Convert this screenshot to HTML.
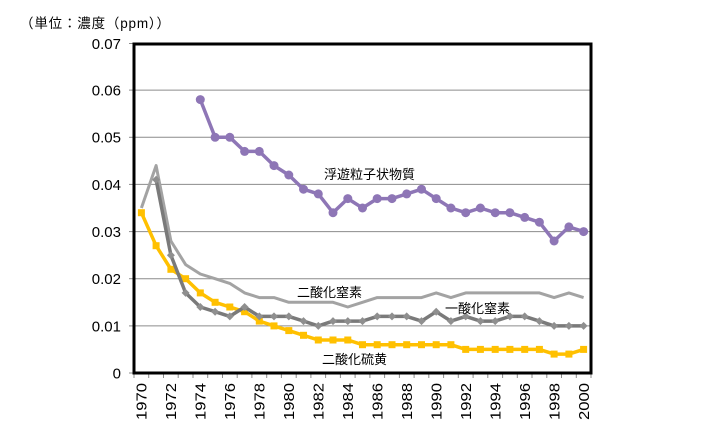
<!DOCTYPE html>
<html><head><meta charset="utf-8"><style>
html,body{margin:0;padding:0;background:#fff;}
svg{display:block;}
text{font-family:"Liberation Sans","Noto Sans CJK JP",sans-serif;}
</style></head><body>
<svg width="709" height="428" viewBox="0 0 709 428" xmlns="http://www.w3.org/2000/svg">
<rect width="709" height="428" fill="#fff"/>
<text x="20" y="28" font-size="13.5" fill="#000" textLength="150" lengthAdjust="spacing">（単位：濃度（ppm））</text>
<!-- gridlines -->
<g stroke="#8c8c8c" stroke-width="1">
<line x1="134" y1="90.1" x2="591" y2="90.1"/>
<line x1="134" y1="137.3" x2="591" y2="137.3"/>
<line x1="134" y1="184.4" x2="591" y2="184.4"/>
<line x1="134" y1="231.6" x2="591" y2="231.6"/>
<line x1="134" y1="278.7" x2="591" y2="278.7"/>
<line x1="134" y1="325.9" x2="591" y2="325.9"/>
</g>
<!-- y ticks -->
<g stroke="#8c8c8c" stroke-width="1">
<line x1="129" y1="43.5" x2="134" y2="43.5"/>
<line x1="129" y1="90.1" x2="134" y2="90.1"/>
<line x1="129" y1="137.3" x2="134" y2="137.3"/>
<line x1="129" y1="184.4" x2="134" y2="184.4"/>
<line x1="129" y1="231.6" x2="134" y2="231.6"/>
<line x1="129" y1="278.7" x2="134" y2="278.7"/>
<line x1="129" y1="325.9" x2="134" y2="325.9"/>
<line x1="129" y1="373" x2="134" y2="373"/>
</g>
<g font-size="15" fill="#000" text-anchor="end">
<text x="121" y="49">0.07</text>
<text x="121" y="95.5">0.06</text>
<text x="121" y="142.7">0.05</text>
<text x="121" y="189.8">0.04</text>
<text x="121" y="237">0.03</text>
<text x="121" y="284.1">0.02</text>
<text x="121" y="331.3">0.01</text>
<text x="121" y="378.4">0</text>
</g>
<!-- x ticks -->
<g stroke="#8c8c8c" stroke-width="1">
<line x1="134" y1="373" x2="134" y2="378"/><line x1="148.7" y1="373" x2="148.7" y2="378"/><line x1="163.5" y1="373" x2="163.5" y2="378"/><line x1="178.2" y1="373" x2="178.2" y2="378"/><line x1="193" y1="373" x2="193" y2="378"/><line x1="207.7" y1="373" x2="207.7" y2="378"/><line x1="222.5" y1="373" x2="222.5" y2="378"/><line x1="237.2" y1="373" x2="237.2" y2="378"/><line x1="251.9" y1="373" x2="251.9" y2="378"/><line x1="266.7" y1="373" x2="266.7" y2="378"/><line x1="281.4" y1="373" x2="281.4" y2="378"/><line x1="296.2" y1="373" x2="296.2" y2="378"/><line x1="310.9" y1="373" x2="310.9" y2="378"/><line x1="325.6" y1="373" x2="325.6" y2="378"/><line x1="340.4" y1="373" x2="340.4" y2="378"/><line x1="355.1" y1="373" x2="355.1" y2="378"/><line x1="369.9" y1="373" x2="369.9" y2="378"/><line x1="384.6" y1="373" x2="384.6" y2="378"/><line x1="399.4" y1="373" x2="399.4" y2="378"/><line x1="414.1" y1="373" x2="414.1" y2="378"/><line x1="428.8" y1="373" x2="428.8" y2="378"/><line x1="443.6" y1="373" x2="443.6" y2="378"/><line x1="458.3" y1="373" x2="458.3" y2="378"/><line x1="473.1" y1="373" x2="473.1" y2="378"/><line x1="487.8" y1="373" x2="487.8" y2="378"/><line x1="502.6" y1="373" x2="502.6" y2="378"/><line x1="517.3" y1="373" x2="517.3" y2="378"/><line x1="532" y1="373" x2="532" y2="378"/><line x1="546.8" y1="373" x2="546.8" y2="378"/><line x1="561.5" y1="373" x2="561.5" y2="378"/><line x1="576.3" y1="373" x2="576.3" y2="378"/><line x1="591" y1="373" x2="591" y2="378"/>
</g>
<g font-size="15" fill="#000" text-anchor="end">
<text transform="translate(146.6,383) rotate(-90)" textLength="37" lengthAdjust="spacingAndGlyphs">1970</text>
<text transform="translate(176.1,383) rotate(-90)" textLength="37" lengthAdjust="spacingAndGlyphs">1972</text>
<text transform="translate(205.5,383) rotate(-90)" textLength="37" lengthAdjust="spacingAndGlyphs">1974</text>
<text transform="translate(235,383) rotate(-90)" textLength="37" lengthAdjust="spacingAndGlyphs">1976</text>
<text transform="translate(264.5,383) rotate(-90)" textLength="37" lengthAdjust="spacingAndGlyphs">1978</text>
<text transform="translate(294,383) rotate(-90)" textLength="37" lengthAdjust="spacingAndGlyphs">1980</text>
<text transform="translate(323.5,383) rotate(-90)" textLength="37" lengthAdjust="spacingAndGlyphs">1982</text>
<text transform="translate(353,383) rotate(-90)" textLength="37" lengthAdjust="spacingAndGlyphs">1984</text>
<text transform="translate(382.4,383) rotate(-90)" textLength="37" lengthAdjust="spacingAndGlyphs">1986</text>
<text transform="translate(411.9,383) rotate(-90)" textLength="37" lengthAdjust="spacingAndGlyphs">1988</text>
<text transform="translate(441.4,383) rotate(-90)" textLength="37" lengthAdjust="spacingAndGlyphs">1990</text>
<text transform="translate(470.9,383) rotate(-90)" textLength="37" lengthAdjust="spacingAndGlyphs">1992</text>
<text transform="translate(500.4,383) rotate(-90)" textLength="37" lengthAdjust="spacingAndGlyphs">1994</text>
<text transform="translate(529.9,383) rotate(-90)" textLength="37" lengthAdjust="spacingAndGlyphs">1996</text>
<text transform="translate(559.3,383) rotate(-90)" textLength="37" lengthAdjust="spacingAndGlyphs">1998</text>
<text transform="translate(588.8,383) rotate(-90)" textLength="37" lengthAdjust="spacingAndGlyphs">2000</text>
</g>
<!-- NO2 light gray -->
<polyline fill="none" stroke="#a3a3a3" stroke-width="3" stroke-linejoin="round" points="141.4,208 156.1,165.6 170.9,241 185.6,264.6 200.3,274 215.1,278.7 229.8,283.4 244.6,292.9 259.3,297.6 274,297.6 288.8,302.3 303.5,302.3 318.3,302.3 333,302.3 347.8,307 362.5,302.3 377.2,297.6 392,297.6 406.7,297.6 421.5,297.6 436.2,292.9 450.9,297.6 465.7,292.9 480.4,292.9 495.2,292.9 509.9,292.9 524.7,292.9 539.4,292.9 554.1,297.6 568.9,292.9 583.6,297.6"/>
<!-- SO2 yellow -->
<polyline fill="none" stroke="#ffc000" stroke-width="3.5" stroke-linejoin="round" points="141.4,212.7 156.1,245.7 170.9,269.3 185.6,278.7 200.3,292.9 215.1,302.3 229.8,307 244.6,311.7 259.3,321.1 274,325.9 288.8,330.6 303.5,335.3 318.3,340 333,340 347.8,340 362.5,344.7 377.2,344.7 392,344.7 406.7,344.7 421.5,344.7 436.2,344.7 450.9,344.7 465.7,349.4 480.4,349.4 495.2,349.4 509.9,349.4 524.7,349.4 539.4,349.4 554.1,354.1 568.9,354.1 583.6,349.4"/>
<g fill="#ffc000">
<rect x="137.9" y="209.2" width="7" height="7"/><rect x="152.6" y="242.2" width="7" height="7"/><rect x="167.4" y="265.8" width="7" height="7"/><rect x="182.1" y="275.2" width="7" height="7"/><rect x="196.8" y="289.4" width="7" height="7"/><rect x="211.6" y="298.8" width="7" height="7"/><rect x="226.3" y="303.5" width="7" height="7"/><rect x="241.1" y="308.2" width="7" height="7"/><rect x="255.8" y="317.6" width="7" height="7"/><rect x="270.5" y="322.4" width="7" height="7"/><rect x="285.3" y="327.1" width="7" height="7"/><rect x="300" y="331.8" width="7" height="7"/><rect x="314.8" y="336.5" width="7" height="7"/><rect x="329.5" y="336.5" width="7" height="7"/><rect x="344.3" y="336.5" width="7" height="7"/><rect x="359" y="341.2" width="7" height="7"/><rect x="373.7" y="341.2" width="7" height="7"/><rect x="388.5" y="341.2" width="7" height="7"/><rect x="403.2" y="341.2" width="7" height="7"/><rect x="418" y="341.2" width="7" height="7"/><rect x="432.7" y="341.2" width="7" height="7"/><rect x="447.4" y="341.2" width="7" height="7"/><rect x="462.2" y="345.9" width="7" height="7"/><rect x="476.9" y="345.9" width="7" height="7"/><rect x="491.7" y="345.9" width="7" height="7"/><rect x="506.4" y="345.9" width="7" height="7"/><rect x="521.2" y="345.9" width="7" height="7"/><rect x="535.9" y="345.9" width="7" height="7"/><rect x="550.6" y="350.6" width="7" height="7"/><rect x="565.4" y="350.6" width="7" height="7"/><rect x="580.1" y="345.9" width="7" height="7"/>
</g>
<!-- NO dark gray -->
<polyline fill="none" stroke="#7a7a7a" stroke-width="3.5" stroke-linejoin="round" points="156.1,179.7 170.9,255.2 185.6,292.9 200.3,307 215.1,311.7 229.8,316.4 244.6,307 259.3,316.4 274,316.4 288.8,316.4 303.5,321.1 318.3,325.9 333,321.1 347.8,321.1 362.5,321.1 377.2,316.4 392,316.4 406.7,316.4 421.5,321.1 436.2,311.7 450.9,321.1 465.7,316.4 480.4,321.1 495.2,321.1 509.9,316.4 524.7,316.4 539.4,321.1 554.1,325.9 568.9,325.9 583.6,325.9"/>
<g fill="#8f8f8f">
<path d="M156.1,175.7l4,4l-4,4l-4,-4z"/><path d="M170.9,251.2l4,4l-4,4l-4,-4z"/><path d="M185.6,288.9l4,4l-4,4l-4,-4z"/><path d="M200.3,303l4,4l-4,4l-4,-4z"/><path d="M215.1,307.7l4,4l-4,4l-4,-4z"/><path d="M229.8,312.4l4,4l-4,4l-4,-4z"/><path d="M244.6,303l4,4l-4,4l-4,-4z"/><path d="M259.3,312.4l4,4l-4,4l-4,-4z"/><path d="M274,312.4l4,4l-4,4l-4,-4z"/><path d="M288.8,312.4l4,4l-4,4l-4,-4z"/><path d="M303.5,317.1l4,4l-4,4l-4,-4z"/><path d="M318.3,321.9l4,4l-4,4l-4,-4z"/><path d="M333,317.1l4,4l-4,4l-4,-4z"/><path d="M347.8,317.1l4,4l-4,4l-4,-4z"/><path d="M362.5,317.1l4,4l-4,4l-4,-4z"/><path d="M377.2,312.4l4,4l-4,4l-4,-4z"/><path d="M392,312.4l4,4l-4,4l-4,-4z"/><path d="M406.7,312.4l4,4l-4,4l-4,-4z"/><path d="M421.5,317.1l4,4l-4,4l-4,-4z"/><path d="M436.2,307.7l4,4l-4,4l-4,-4z"/><path d="M450.9,317.1l4,4l-4,4l-4,-4z"/><path d="M465.7,312.4l4,4l-4,4l-4,-4z"/><path d="M480.4,317.1l4,4l-4,4l-4,-4z"/><path d="M495.2,317.1l4,4l-4,4l-4,-4z"/><path d="M509.9,312.4l4,4l-4,4l-4,-4z"/><path d="M524.7,312.4l4,4l-4,4l-4,-4z"/><path d="M539.4,317.1l4,4l-4,4l-4,-4z"/><path d="M554.1,321.9l4,4l-4,4l-4,-4z"/><path d="M568.9,321.9l4,4l-4,4l-4,-4z"/><path d="M583.6,321.9l4,4l-4,4l-4,-4z"/>
</g>
<!-- SPM purple -->
<polyline fill="none" stroke="#8e76b6" stroke-width="3.5" stroke-linejoin="round" points="200.3,99.6 215.1,137.3 229.8,137.3 244.6,151.4 259.3,151.4 274,165.6 288.8,175 303.5,189.2 318.3,193.9 333,212.7 347.8,198.6 362.5,208 377.2,198.6 392,198.6 406.7,193.9 421.5,189.2 436.2,198.6 450.9,208 465.7,212.7 480.4,208 495.2,212.7 509.9,212.7 524.7,217.4 539.4,222.2 554.1,241 568.9,226.9 583.6,231.6"/>
<g fill="#8e76b6">
<circle cx="200.3" cy="99.6" r="4.5"/><circle cx="215.1" cy="137.3" r="4.5"/><circle cx="229.8" cy="137.3" r="4.5"/><circle cx="244.6" cy="151.4" r="4.5"/><circle cx="259.3" cy="151.4" r="4.5"/><circle cx="274" cy="165.6" r="4.5"/><circle cx="288.8" cy="175" r="4.5"/><circle cx="303.5" cy="189.2" r="4.5"/><circle cx="318.3" cy="193.9" r="4.5"/><circle cx="333" cy="212.7" r="4.5"/><circle cx="347.8" cy="198.6" r="4.5"/><circle cx="362.5" cy="208" r="4.5"/><circle cx="377.2" cy="198.6" r="4.5"/><circle cx="392" cy="198.6" r="4.5"/><circle cx="406.7" cy="193.9" r="4.5"/><circle cx="421.5" cy="189.2" r="4.5"/><circle cx="436.2" cy="198.6" r="4.5"/><circle cx="450.9" cy="208" r="4.5"/><circle cx="465.7" cy="212.7" r="4.5"/><circle cx="480.4" cy="208" r="4.5"/><circle cx="495.2" cy="212.7" r="4.5"/><circle cx="509.9" cy="212.7" r="4.5"/><circle cx="524.7" cy="217.4" r="4.5"/><circle cx="539.4" cy="222.2" r="4.5"/><circle cx="554.1" cy="241" r="4.5"/><circle cx="568.9" cy="226.9" r="4.5"/><circle cx="583.6" cy="231.6" r="4.5"/>
</g>
<!-- frame -->
<rect x="134" y="44" width="457" height="329" fill="none" stroke="#000" stroke-width="3"/>
<!-- series labels -->
<g font-size="13" fill="#000">
<text x="324" y="179">浮遊粒子状物質</text>
<text x="297" y="297">二酸化窒素</text>
<text x="445" y="313">一酸化窒素</text>
<text x="322" y="364">二酸化硫黄</text>
</g>
</svg>
</body></html>
